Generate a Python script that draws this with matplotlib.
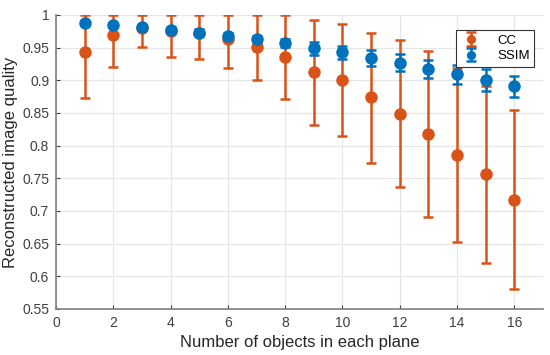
import numpy as np
import matplotlib.pyplot as plt

plt.rcParams['font.family'] = ['Liberation Sans', 'DejaVu Sans']

n_objects = [1, 2, 3, 4, 5, 6, 7, 8, 9, 10, 11, 12, 13, 14, 15, 16]

cc_mean = [0.943, 0.970, 0.980, 0.975, 0.972, 0.963, 0.951, 0.936,
           0.912, 0.900, 0.874, 0.849, 0.817, 0.785, 0.757, 0.716]
cc_low = [0.873, 0.921, 0.951, 0.936, 0.933, 0.919, 0.901, 0.871,
          0.832, 0.815, 0.774, 0.736, 0.690, 0.653, 0.620, 0.580]
cc_high = [1.0, 1.0, 1.0, 1.0, 1.0, 1.0, 1.0, 1.0,
           0.992, 0.986, 0.973, 0.961, 0.944, 0.918, 0.891, 0.854]

ssim_mean = [0.988, 0.984, 0.981, 0.977, 0.973, 0.968, 0.963, 0.957,
             0.949, 0.943, 0.934, 0.927, 0.917, 0.909, 0.900, 0.891]
ssim_err = [0.003, 0.003, 0.004, 0.004, 0.005, 0.005, 0.005, 0.006,
            0.010, 0.010, 0.012, 0.013, 0.014, 0.015, 0.017, 0.016]

orange = '#D95319'
blue = '#0072BD'

fig = plt.figure(figsize=(5.5, 3.55), dpi=100)
ax = fig.add_axes([0.102, 0.130, 0.885, 0.828])

cc_m = np.array(cc_mean)
cc_err = [cc_m - np.array(cc_low), np.array(cc_high) - cc_m]
ax.errorbar(n_objects, cc_mean, yerr=cc_err, fmt='o', color=orange,
            markersize=8, elinewidth=1.8, capsize=3.5, capthick=1.8,
            label='CC', zorder=3)
ax.errorbar(n_objects, ssim_mean, yerr=ssim_err, fmt='o', color=blue,
            markersize=8, elinewidth=1.8, capsize=3.5, capthick=1.8,
            label='SSIM', zorder=4)

ax.set_xlim(0, 17)
ax.set_ylim(0.55, 1.0)
ax.set_xticks(np.arange(0, 17, 2))
ax.set_yticks(np.arange(0.55, 1.001, 0.05))
ax.set_yticklabels(['0.55', '0.6', '0.65', '0.7', '0.75', '0.8', '0.85', '0.9', '0.95', '1'])

ax.grid(True, color='#e6e6e6', linewidth=0.9)
ax.set_axisbelow(True)
for s in ['top', 'right']:
    ax.spines[s].set_visible(False)
for s in ['left', 'bottom']:
    ax.spines[s].set_color('#808080')
    ax.spines[s].set_linewidth(1.2)
ax.tick_params(direction='in', length=3, colors='#404040', labelsize=10,
               labelcolor='#404040', pad=5)

ax.set_xlabel('Number of objects in each plane', fontsize=12, color='#262626')
ax.set_ylabel('Reconstructed image quality', fontsize=12, color='#262626', labelpad=3)

leg = ax.legend(loc='upper right', bbox_to_anchor=(0.996, 0.972), fontsize=9.5,
                fancybox=False, framealpha=1, edgecolor='#333333',
                handlelength=1.6, handletextpad=1.2, borderpad=0.35,
                labelspacing=0.25, markerscale=0.7)
leg.get_frame().set_linewidth(0.8)

plt.savefig('out.png', dpi=100)
